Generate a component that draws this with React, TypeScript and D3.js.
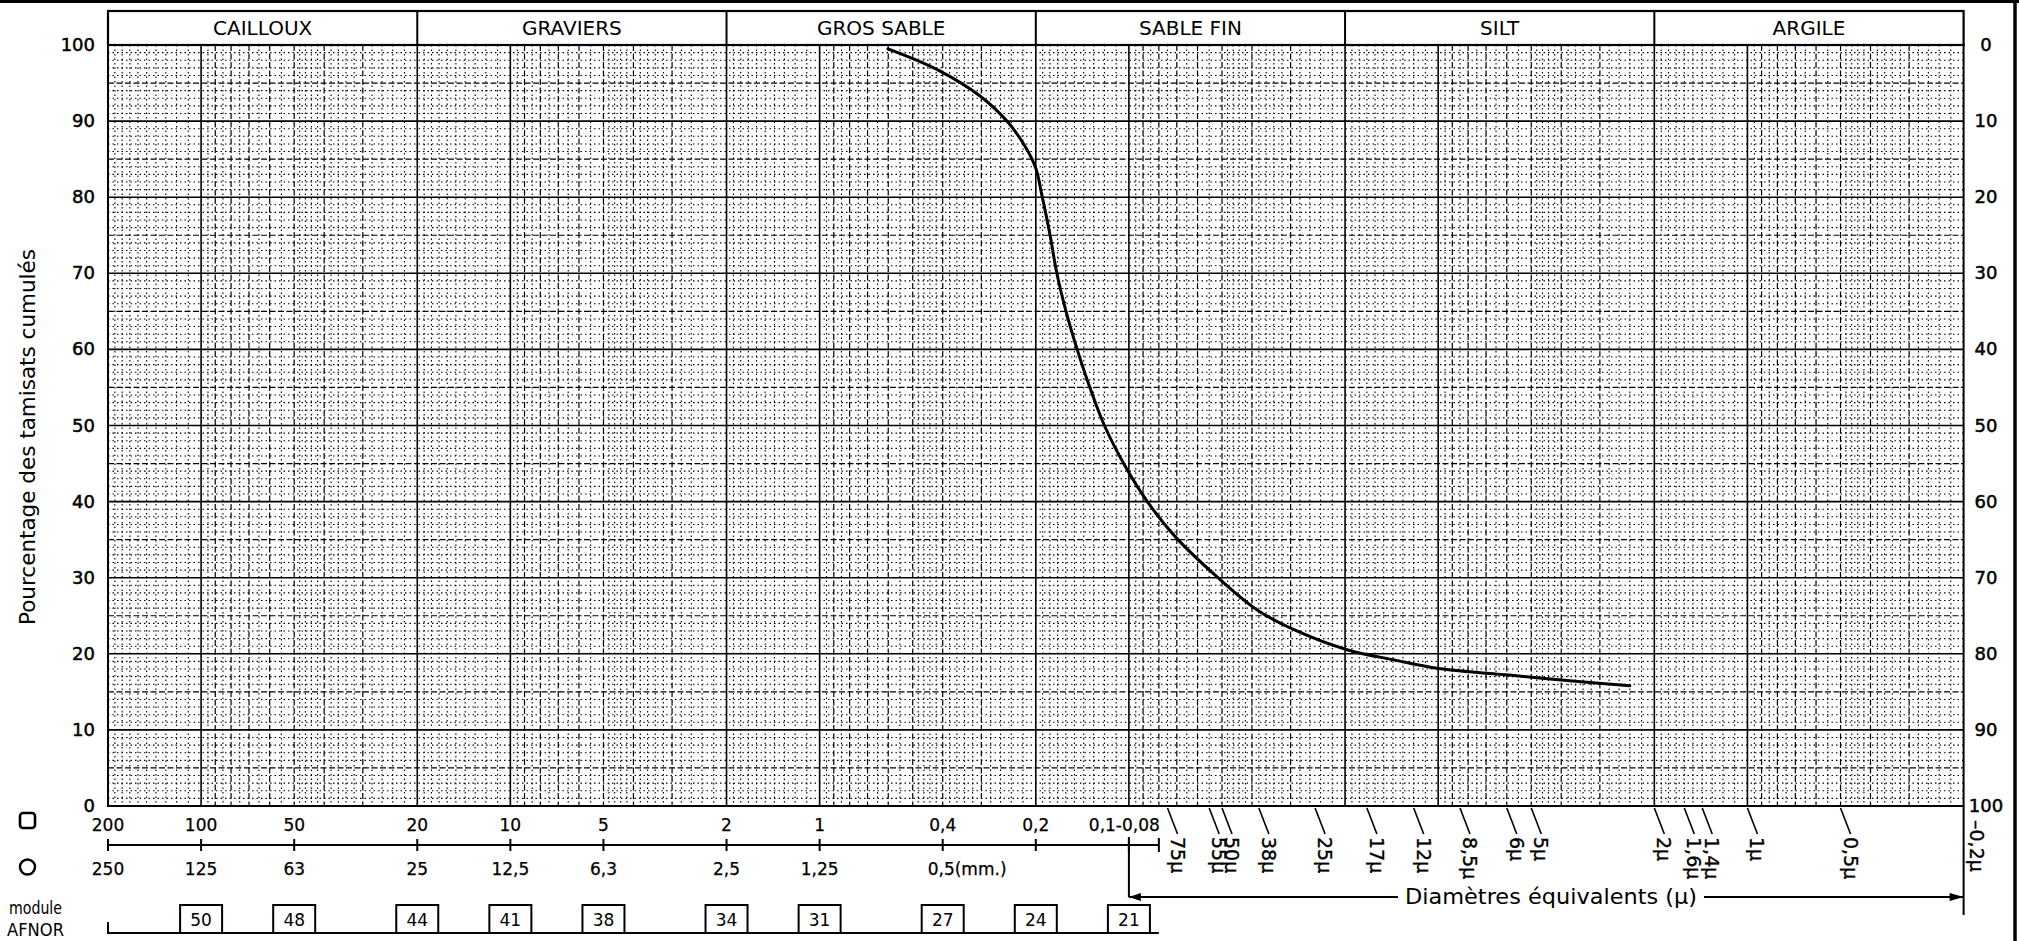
import React, { useEffect } from "react";
import * as d3 from "d3";

// ---------- data ----------
const CATEGORIES = ["CAILLOUX", "GRAVIERS", "GROS SABLE", "SABLE FIN", "SILT", "ARGILE"];
const CATEGORY_BOUNDS = [200, 20, 2, 0.2, 0.02, 0.002, 0.0002]; // mm
const Y_TICKS = [0, 10, 20, 30, 40, 50, 60, 70, 80, 90, 100];
const SQUARE_SIEVES = [200, 100, 50, 20, 10, 5, 2, 1, 0.4, 0.2];
const SQUARE_LABELS = ["200", "100", "50", "20", "10", "5", "2", "1", "0,4", "0,2"];
const ROUND_LABELS = ["250", "125", "63", "25", "12,5", "6,3", "2,5", "1,25", "0,5(mm.)"];
const AFNOR_SIZES = [100, 50, 20, 10, 5, 2, 1, 0.4, 0.2, 0.1];
const AFNOR_MODULES = [50, 48, 44, 41, 38, 34, 31, 27, 24, 21];
const MICRON_SIZES = [75, 55, 50, 38, 25, 17, 12, 8.5, 6, 5, 2, 1.6, 1.4, 1, 0.5];
const MICRON_LABELS = ["75µ", "55µ", "50µ", "38µ", "25µ", "17µ", "12µ", "8,5µ", "6µ", "5µ", "2µ", "1,6µ", "1,4µ", "1µ", "0,5µ"];
const CURVE_D = [0.601, 0.418, 0.303, 0.248, 0.216, 0.2, 0.191, 0.18, 0.171, 0.159, 0.147, 0.134, 0.12, 0.102, 0.0872, 0.0705, 0.0515, 0.0386, 0.029, 0.0196, 0.0139, 0.0101, 0.0059, 0.00384, 0.0024];
const CURVE_P = [99.5, 96.8, 93.3, 90, 86.6, 83.8, 80.2, 75.1, 70, 64.7, 60, 55.1, 50, 44.4, 40, 35.3, 30, 25.8, 23.1, 20.5, 19.2, 18.1, 17.2, 16.5, 15.8];

const FONT = "DejaVu Sans, Verdana, sans-serif";
const W = 2019;
const H = 941;

export default function App() {
  useEffect(() => {
    document.body.style.margin = "0";
  }, []);

  const x = d3.scaleLog().domain([200, 0.0002]).range([108, 1963.6]);
  const y = d3.scaleLinear().domain([0, 100]).range([806, 45]);
  const x0 = x(200);
  const x1 = x(0.0002);
  const yTop = y(100);
  const yBot = y(0);

  // grid values (log paper)
  const inRange = (v: number) => v > 0.0002 * 1.0001 && v < 200 * 0.9999;
  const majorV: number[] = [];
  const midV: number[] = [];
  const fineV: number[] = [];
  for (let k = -4; k <= 2; k++) {
    const p = Math.pow(10, k);
    for (let m = 1; m < 10; m++) {
      const v = m * p;
      if (!inRange(v)) continue;
      if (m <= 2) majorV.push(v);
      else midV.push(v);
    }
    const steps: [number, number, number][] = [
      [1, 2, 0.1],
      [2, 5, 0.2],
      [5, 10, 0.5],
    ];
    for (const [a, b, s] of steps) {
      for (let i = 1; a + i * s < b - 1e-9; i++) {
        const m = a + i * s;
        if (Math.abs(m - Math.round(m)) < 1e-6) continue;
        const v = m * p;
        if (inRange(v)) fineV.push(v);
      }
    }
  }
  const pct = d3.range(1, 100);
  const hMajor = pct.filter((p) => p % 10 === 0);
  const hMid = pct.filter((p) => p % 5 === 0 && p % 10 !== 0);
  const hFine = pct.filter((p) => p % 5 !== 0);

  const line = d3
    .line<number>()
    .x((_, i) => x(CURVE_D[i]))
    .y((_, i) => y(CURVE_P[i]))
    .curve(d3.curveCatmullRom.alpha(0.5));
  const curvePath = line(CURVE_P) || "";

  const axisY = 845;
  const bracketY = 897;

  return (
    <svg
      width={W}
      height={H}
      viewBox={`0 0 ${W} ${H}`}
      style={{ position: "absolute", left: 0, top: 0, background: "#fff" }}
      fontFamily={FONT}
    >
      <rect x={0} y={0} width={W} height={H} fill="#fff" />

      {/* scan frame */}
      <line x1={0} x2={W} y1={1.5} y2={1.5} stroke="#000" strokeWidth={3} />
      <line x1={2015} x2={2015} y1={0} y2={H} stroke="#000" strokeWidth={3.5} />

      {/* grid: fine dotted */}
      <g stroke="#000" strokeWidth={1.1} strokeDasharray="1.5 3">
        {fineV.map((v, i) => (
          <line key={"fv" + i} x1={x(v)} x2={x(v)} y1={yTop} y2={yBot} />
        ))}
        {hFine.map((p) => (
          <line key={"fh" + p} x1={x0} x2={x1} y1={y(p)} y2={y(p)} />
        ))}
      </g>
      {/* grid: mid dashed */}
      <g stroke="#000" strokeWidth={1.2} strokeDasharray="6 2.5">
        {midV.map((v, i) => (
          <line key={"mv" + i} x1={x(v)} x2={x(v)} y1={yTop} y2={yBot} />
        ))}
        {hMid.map((p) => (
          <line key={"mh" + p} x1={x0} x2={x1} y1={y(p)} y2={y(p)} />
        ))}
      </g>
      {/* grid: major solid */}
      <g stroke="#000" strokeWidth={1.6}>
        {majorV.map((v, i) => (
          <line key={"Mv" + i} x1={x(v)} x2={x(v)} y1={yTop} y2={yBot} />
        ))}
        {hMajor.map((p) => (
          <line key={"Mh" + p} x1={x0} x2={x1} y1={y(p)} y2={y(p)} />
        ))}
      </g>
      <rect x={x0} y={yTop} width={x1 - x0} height={yBot - yTop} fill="none" stroke="#000" strokeWidth={2} />

      {/* header */}
      <rect x={x0} y={11} width={x1 - x0} height={yTop - 11} fill="none" stroke="#000" strokeWidth={2.2} />
      {CATEGORY_BOUNDS.slice(1, -1).map((b, i) => (
        <line key={"hd" + i} x1={x(b)} x2={x(b)} y1={11} y2={yTop} stroke="#000" strokeWidth={2} />
      ))}
      {CATEGORIES.map((c, i) => (
        <text
          key={c}
          x={(x(CATEGORY_BOUNDS[i]) + x(CATEGORY_BOUNDS[i + 1])) / 2}
          y={35}
          fontSize={20}
          textAnchor="middle"
          fill="#000"
        >
          {c}
        </text>
      ))}

      {/* left / right axis labels */}
      {Y_TICKS.map((t) => (
        <text key={"yl" + t} x={95} y={y(t) + 6} fontSize={18} textAnchor="end" fill="#000" stroke="#000" strokeWidth={0.5}>
          {t}
        </text>
      ))}
      {Y_TICKS.map((t) => (
        <text key={"yr" + t} x={1986} y={y(t) + 6} fontSize={18} textAnchor="middle" fill="#000" stroke="#000" strokeWidth={0.5}>
          {100 - t}
        </text>
      ))}
      <text
        transform="translate(35,437) rotate(-90)"
        fontSize={21}
        textAnchor="middle"
        textLength={376}
        lengthAdjust="spacingAndGlyphs"
        fill="#000"
      >
        Pourcentage des tamisats cumulés
      </text>

      {/* curve */}
      <path d={curvePath} fill="none" stroke="#000" strokeWidth={3} strokeLinecap="round" />

      {/* sieve symbols */}
      <rect x={20} y={813} width={15} height={15} rx={3} fill="none" stroke="#000" strokeWidth={2.6} />
      <circle cx={27.5} cy={867} r={7.5} fill="none" stroke="#000" strokeWidth={2.4} />

      {/* square sieve labels */}
      {SQUARE_LABELS.map((l, i) => (
        <text key={"sq" + l} x={x(SQUARE_SIEVES[i])} y={831} fontSize={17} textAnchor="middle" fill="#000" stroke="#000" strokeWidth={0.25}>
          {l}
        </text>
      ))}
      <text x={x(0.08) + 1} y={831} fontSize={17} textAnchor="end" fill="#000" stroke="#000" strokeWidth={0.25}>
        0,1-0,08
      </text>

      {/* sieve axis */}
      <line x1={x(200)} x2={x(0.08)} y1={axisY} y2={axisY} stroke="#000" strokeWidth={2} />
      {[...SQUARE_SIEVES, 0.1].map((v, i) => (
        <line key={"tk" + i} x1={x(v)} x2={x(v)} y1={axisY - 6} y2={axisY + 6} stroke="#000" strokeWidth={2} />
      ))}
      <line x1={x(0.08)} x2={x(0.08)} y1={axisY - 7} y2={axisY + 7} stroke="#000" strokeWidth={2} />

      {/* round sieve labels */}
      {ROUND_LABELS.map((l, i) => {
        const last = i === ROUND_LABELS.length - 1;
        return (
          <text
            key={"rd" + l}
            x={last ? x(SQUARE_SIEVES[i]) - 15 : x(SQUARE_SIEVES[i])}
            y={875}
            fontSize={17}
            textAnchor={last ? "start" : "middle"}
            fill="#000"
            stroke="#000"
            strokeWidth={0.25}
          >
            {l}
          </text>
        );
      })}

      {/* AFNOR modules */}
      <text x={9} y={914} fontSize={18} textLength={53} lengthAdjust="spacingAndGlyphs" fill="#000">
        module
      </text>
      <text x={7} y={936} fontSize={18} textLength={57} lengthAdjust="spacingAndGlyphs" fill="#000">
        AFNOR
      </text>
      <path d={`M${x(200)},922 V933 H${x(0.08)}`} fill="none" stroke="#000" strokeWidth={2} />
      {AFNOR_MODULES.map((m, i) => {
        const cx = x(AFNOR_SIZES[i]);
        return (
          <g key={"mod" + m}>
            <rect x={cx - 21} y={905} width={42} height={28} fill="#fff" stroke="#000" strokeWidth={2} />
            <text x={cx} y={926} fontSize={17} textAnchor="middle" fill="#000">
              {m}
            </text>
          </g>
        );
      })}

      {/* equivalent diameters bracket */}
      <line x1={x(0.1)} x2={x(0.1)} y1={837} y2={bracketY} stroke="#000" strokeWidth={2} />
      <line x1={x(0.1)} x2={1398} y1={bracketY} y2={bracketY} stroke="#000" strokeWidth={2} />
      <line x1={1704} x2={x1} y1={bracketY} y2={bracketY} stroke="#000" strokeWidth={2} />
      <path d={`M${x(0.1)},${bracketY} l12,-4 v8 z`} fill="#000" />
      <path d={`M${x1},${bracketY} l-14,-4 v8 z`} fill="#000" />
      <line x1={x1} x2={x1} y1={yBot} y2={915} stroke="#000" strokeWidth={2} />
      <text x={1551} y={904} fontSize={21} textAnchor="middle" textLength={292} lengthAdjust="spacingAndGlyphs" fill="#000">
        Diamètres équivalents (µ)
      </text>

      {/* micron labels */}
      {MICRON_SIZES.map((u, i) => {
        const xs = x(u / 1000);
        return (
          <g key={"mu" + i}>
            <line x1={xs} x2={xs + 10} y1={yBot + 2} y2={834} stroke="#000" strokeWidth={1.6} />
            <text transform={`translate(${xs + 3},837) rotate(90)`} fontSize={19} fill="#000" stroke="#000" strokeWidth={0.35}>
              {MICRON_LABELS[i]}
            </text>
          </g>
        );
      })}
      <text transform={`translate(${x1 + 6},820) rotate(90)`} fontSize={19} fill="#000" stroke="#000" strokeWidth={0.35}>
        –0,2µ
      </text>
    </svg>
  );
}
